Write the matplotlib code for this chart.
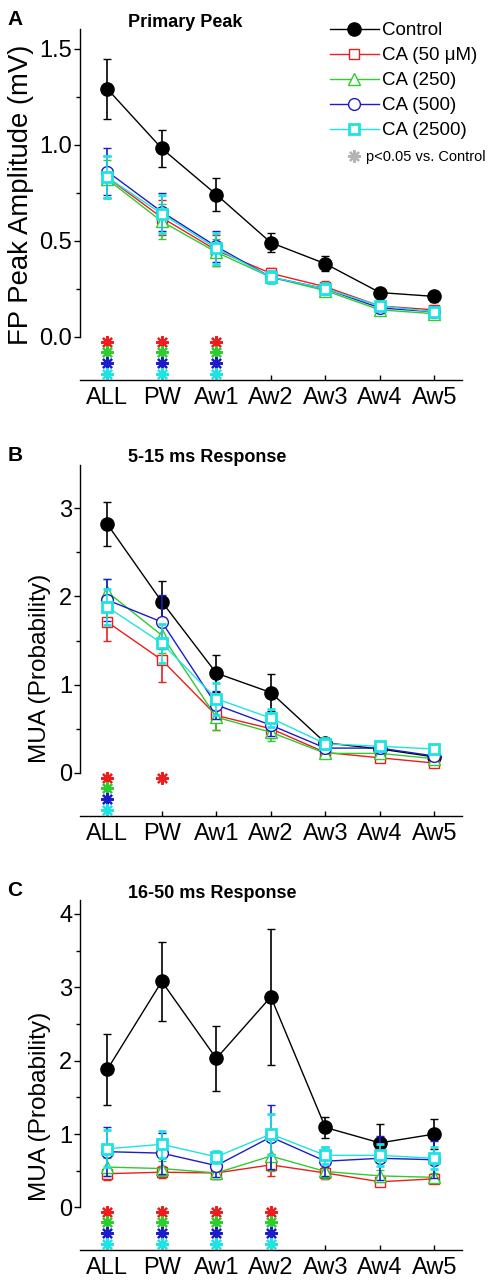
import matplotlib
matplotlib.use("Agg")
import matplotlib.pyplot as plt
from matplotlib.lines import Line2D
from matplotlib.ticker import FixedLocator, FormatStrFormatter
import matplotlib.transforms as mtransforms
import numpy as np

plt.rcParams['font.family'] = ['Liberation Sans', 'DejaVu Sans']

# categories on the x axis
categories = ['ALL', 'PW', 'Aw1', 'Aw2', 'Aw3', 'Aw4', 'Aw5']
series_names = ['Control', 'CA (50 \u03bcM)', 'CA (250)', 'CA (500)', 'CA (2500)']

# panel A: FP peak amplitude (mV), mean and sem
a_mean = [
    [1.29, 0.98, 0.74, 0.49, 0.38, 0.23, 0.21],
    [0.83, 0.62, 0.45, 0.33, 0.26, 0.16, 0.14],
    [0.82, 0.60, 0.44, 0.31, 0.24, 0.14, 0.12],
    [0.86, 0.65, 0.47, 0.31, 0.25, 0.15, 0.13],
    [0.83, 0.64, 0.46, 0.31, 0.25, 0.16, 0.13],
]
a_sem = [
    [0.155, 0.095, 0.085, 0.05, 0.04, 0.02, 0.03],
    [0.11, 0.09, 0.08, 0.03, 0.03, 0.02, 0.02],
    [0.10, 0.09, 0.07, 0.03, 0.03, 0.02, 0.02],
    [0.12, 0.10, 0.08, 0.03, 0.03, 0.02, 0.02],
    [0.11, 0.10, 0.08, 0.03, 0.03, 0.02, 0.02],
]
a_sig = [[0, 1, 2], [0, 1, 2], [0, 1, 2], [0, 1, 2]]

# panel B: 5-15 ms MUA
b_mean = [
    [2.82, 1.94, 1.13, 0.91, 0.34, 0.27, 0.18],
    [1.71, 1.28, 0.65, 0.50, 0.23, 0.17, 0.11],
    [2.05, 1.56, 0.63, 0.46, 0.22, 0.22, 0.16],
    [1.96, 1.71, 0.77, 0.54, 0.28, 0.28, 0.19],
    [1.88, 1.47, 0.84, 0.62, 0.33, 0.30, 0.27],
]
b_sem = [
    [0.25, 0.24, 0.21, 0.21, 0.06, 0.04, 0.04],
    [0.21, 0.25, 0.16, 0.10, 0.05, 0.04, 0.04],
    [0.15, 0.20, 0.15, 0.10, 0.05, 0.04, 0.04],
    [0.24, 0.31, 0.16, 0.12, 0.05, 0.05, 0.05],
    [0.20, 0.22, 0.18, 0.10, 0.06, 0.05, 0.05],
]
b_sig = [[0, 1], [0], [0], [0]]

# panel C: 16-50 ms MUA
c_mean = [
    [1.88, 3.08, 2.03, 2.87, 1.09, 0.88, 1.00],
    [0.46, 0.48, 0.47, 0.58, 0.47, 0.35, 0.39],
    [0.55, 0.53, 0.47, 0.70, 0.49, 0.43, 0.41],
    [0.76, 0.74, 0.57, 0.96, 0.63, 0.67, 0.65],
    [0.80, 0.86, 0.69, 1.00, 0.71, 0.71, 0.67],
]
c_sem = [
    [0.48, 0.54, 0.44, 0.93, 0.14, 0.26, 0.21],
    [0.08, 0.08, 0.08, 0.15, 0.08, 0.06, 0.06],
    [0.12, 0.10, 0.08, 0.20, 0.10, 0.08, 0.06],
    [0.33, 0.28, 0.15, 0.43, 0.20, 0.30, 0.25],
    [0.25, 0.18, 0.08, 0.28, 0.12, 0.15, 0.15],
]
c_sig = [[0, 1, 2, 3], [0, 1, 2, 3], [0, 1, 2, 3], [0, 1, 2, 3]]

colors = ['black', '#ee1c1c', '#2ecc2e', '#1c1cc8', '#1ee3e3']
markers = ['o', 's', '^', 'o', 's']
msizes = [9.5, 7.5, 9, 8.5, 7]
mews = [1, 1, 1, 1, 2]
sig_rows = [0.109, 0.079, 0.048, 0.017]

fig = plt.figure(figsize=(4.89, 12.8), dpi=100)
left, width = 80 / 489, 381.7 / 489
ax_a = fig.add_axes([left, 1 - 380 / 1280, width, 350.7 / 1280])
ax_b = fig.add_axes([left, 1 - 816 / 1280, width, 351 / 1280])
ax_c = fig.add_axes([left, 1 - 1250 / 1280, width, 350 / 1280])

# axes, means, sems, significance, ylim, major, minor, ylabel, label size, label y, title, letter, labelpad, fmt
panels = [
    (ax_a, a_mean, a_sem, a_sig, (-0.225, 1.6), 0.5, 0.25, 'FP Peak Amplitude (mV)', 19.8, 0.527,
     'Primary Peak', 'A', 4, '%.1f'),
    (ax_b, b_mean, b_sem, b_sig, (-0.49, 3.49), 1, 0.5, 'MUA (Probability)', 17.6, 0.42,
     '5-15 ms Response', 'B', 6, '%d'),
    (ax_c, c_mean, c_sem, c_sig, (-0.58, 4.19), 1, 0.5, 'MUA (Probability)', 17.6, 0.41,
     '16-50 ms Response', 'C', 6, '%d'),
]
x = np.arange(len(categories))

for (ax, means, sems, sigs, ylim, major, minor, ylabel, lsize, ly,
     title, letter, lpad, fmt) in panels:
    for i in range(len(series_names)):
        face = colors[i] if i == 0 else 'white'
        ax.errorbar(x, means[i], yerr=sems[i], color=colors[i], lw=1, elinewidth=1.2,
                    capsize=3, capthick=1.2, marker=markers[i], ms=msizes[i],
                    mfc=face, mec=colors[i], mew=mews[i], zorder=3 + i,
                    label=series_names[i])
    # significance asterisks under the zero line
    trans = mtransforms.blended_transform_factory(ax.transData, ax.transAxes)
    for k, idx in enumerate(sigs):
        for j in idx:
            ax.plot(j, sig_rows[k], ls='none', marker=(8, 2, 0), ms=9, mew=1.6,
                    color=colors[k + 1], transform=trans, clip_on=False, zorder=2)
    ax.set_xlim(-0.5, 6.5)
    ax.set_ylim(*ylim)
    ax.set_xticks(x)
    ax.set_xticklabels(categories)
    ax.yaxis.set_major_locator(FixedLocator(np.arange(0, ylim[1], major)))
    ax.yaxis.set_minor_locator(FixedLocator(np.arange(0, ylim[1], minor)))
    ax.yaxis.set_major_formatter(FormatStrFormatter(fmt))
    ax.spines['top'].set_visible(False)
    ax.spines['right'].set_visible(False)
    ax.spines['left'].set_bounds(0, ylim[1])
    ax.spines['left'].set_linewidth(1)
    ax.spines['bottom'].set_linewidth(1)
    ax.tick_params(axis='y', which='major', direction='out', length=4.5, width=1, pad=1, labelsize=17)
    ax.tick_params(axis='y', which='minor', direction='out', length=3, width=1)
    ax.tick_params(axis='x', which='major', direction='in', length=3.5, width=1, pad=5, labelsize=17)
    ax.set_ylabel(ylabel, fontsize=lsize, labelpad=lpad)
    ax.yaxis.label.set_y(ly)
    ax.text(0.126, 1.02, title, transform=ax.transAxes, ha='left', va='center',
            fontsize=13, fontweight='bold')
    ax.text(-0.19, 1.0, letter, transform=ax.transAxes, ha='left', va='bottom',
            fontsize=15, fontweight='bold')

handles, labels = ax_a.get_legend_handles_labels()
handles = [h[0] for h in handles]
leg = ax_a.legend(handles, labels, loc='upper left', bbox_to_anchor=(0.655, 1.02),
                  frameon=False, fontsize=13.5, handlelength=2.6, handletextpad=0.15,
                  labelspacing=0.42, borderpad=0, borderaxespad=0)
ax_a.add_artist(leg)
star = Line2D([], [], ls='none', marker=(8, 2, 0), ms=9, mew=1.6, color='#b4b4b4')
ax_a.legend([star], ['p<0.05 vs. Control'], loc='upper left', bbox_to_anchor=(0.7, 0.655),
            frameon=False, fontsize=10.5, handlelength=1, handletextpad=0.3,
            borderpad=0, borderaxespad=0)

fig.savefig('out.png', dpi=100)
